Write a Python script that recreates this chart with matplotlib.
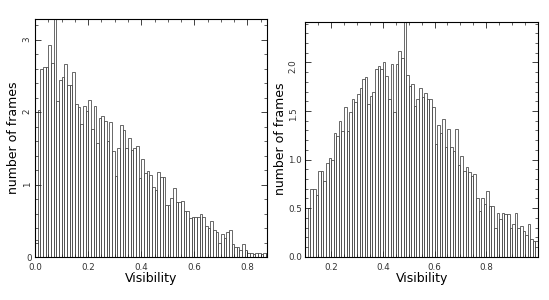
import matplotlib.pyplot as plt
from matplotlib.ticker import MultipleLocator, FixedLocator
from matplotlib.transforms import ScaledTranslation
import numpy as np

plt.rcParams.update({
    "font.family": "DejaVu Sans",
    "font.size": 6.3,
    "axes.linewidth": 0.8,
})

# histogram values (number of frames per 0.01 visibility bin)
left_start = 0.0
left_counts = [
    0.23, 2.03, 2.60, 2.62, 2.62, 2.93, 2.68, 3.60, 2.15, 2.44,
    2.49, 2.67, 2.38, 2.38, 2.55, 2.11, 2.07, 1.84, 2.09, 2.02,
    2.17, 1.77, 2.09, 1.57, 1.92, 1.95, 1.88, 1.60, 1.86, 1.47,
    1.12, 1.50, 1.82, 1.76, 1.50, 1.64, 1.48, 1.50, 1.53, 1.09,
    1.36, 1.16, 1.19, 1.13, 0.97, 0.92, 1.17, 1.10, 1.11, 0.72,
    0.72, 0.81, 0.96, 0.76, 0.76, 0.78, 0.63, 0.63, 0.54, 0.56,
    0.56, 0.56, 0.60, 0.56, 0.43, 0.40, 0.50, 0.37, 0.34, 0.20,
    0.32, 0.26, 0.34, 0.37, 0.18, 0.14, 0.14, 0.10, 0.18, 0.10,
    0.05, 0.05, 0.04, 0.06, 0.05, 0.04, 0.06, 0.06,
]
left_xticks = [0.0, 0.2, 0.4, 0.6, 0.8]
left_yticks = [0, 1, 2, 3]
left_ylabels = ["0", "1", "2", "3"]
left_rotated = ["1", "2", "3"]

right_start = 0.1
right_counts = [
    0.00, 0.50, 0.70, 0.70, 0.64, 0.88, 0.88, 0.78, 0.97, 1.02,
    1.00, 1.27, 1.24, 1.40, 1.29, 1.54, 1.29, 1.49, 1.62, 1.59,
    1.67, 1.74, 1.83, 1.85, 1.57, 1.65, 1.70, 1.93, 1.96, 1.93,
    2.00, 1.86, 1.62, 1.98, 1.49, 1.98, 2.12, 2.05, 2.60, 1.87,
    1.76, 1.78, 1.55, 1.62, 1.74, 1.64, 1.69, 1.62, 1.62, 1.54,
    1.16, 1.36, 1.27, 1.42, 1.13, 1.31, 1.13, 1.09, 1.31, 0.94,
    1.04, 0.88, 0.92, 0.87, 0.83, 0.85, 0.61, 0.47, 0.61, 0.54,
    0.68, 0.52, 0.52, 0.30, 0.45, 0.39, 0.45, 0.44, 0.44, 0.30,
    0.34, 0.45, 0.30, 0.32, 0.27, 0.22, 0.34, 0.18, 0.16, 0.16,
]
right_xticks = [0.2, 0.4, 0.6, 0.8]
right_yticks = [0.0, 0.5, 1.0, 1.5, 2.0]
right_ylabels = ["0.0", "0.5", "1.0", "1.5", "2.0"]
right_rotated = ["1.5", "2.0"]
bin_width = 0.01

fig = plt.figure(figsize=(5.49, 3.0), dpi=100)
ax1 = fig.add_axes([0.064, 0.143, 0.423, 0.794])
ax2 = fig.add_axes([0.556, 0.144, 0.424, 0.784])


def draw_hist(ax, start, counts, xlim, xticks, ylim, yticks, ylabels, yminor,
              rotated, rot_shift):
    edges = start + bin_width * np.arange(len(counts))
    ax.bar(edges, counts, width=bin_width, align='edge', fill=False,
           edgecolor='#505050', linewidth=0.6)
    ax.set_xlim(*xlim)
    ax.set_ylim(*ylim)
    ax.xaxis.set_major_locator(FixedLocator(xticks))
    ax.xaxis.set_minor_locator(MultipleLocator(0.05))
    ax.xaxis.set_major_formatter(lambda v, p: f"{v:.1f}")
    ax.yaxis.set_minor_locator(MultipleLocator(yminor))
    ax.tick_params(which='both', direction='in', top=True, right=True,
                   colors='#222222', labelcolor='#333333')
    ax.tick_params(which='major', length=4, width=0.6)
    ax.tick_params(axis='x', which='major', pad=4.5)
    ax.tick_params(axis='y', which='major', pad=2.5)
    ax.tick_params(which='minor', length=2, width=0.5)
    ax.set_yticks(yticks, ylabels)
    ax.set_xlabel("Visibility", fontsize=9, labelpad=0)
    ax.set_ylabel("number of frames", fontsize=9)
    # some y tick labels are drawn turned on their side
    shift = ScaledTranslation(-rot_shift / 100, 0, fig.dpi_scale_trans)
    for lab in ax.get_yticklabels():
        if lab.get_text() in rotated:
            lab.set_rotation(90)
            lab.set_transform(lab.get_transform() + shift)


draw_hist(ax1, left_start, left_counts, (0.0, 0.875), left_xticks,
          (0, 3.29), left_yticks, left_ylabels, 0.2, left_rotated, 0)
ax1.yaxis.set_label_coords(-0.065, 0.5)

draw_hist(ax2, right_start, right_counts, (0.1, 1.0), right_xticks,
          (0, 2.42), right_yticks, right_ylabels, 0.1, right_rotated, 4)
ax2.yaxis.set_label_coords(-0.077, 0.5)

plt.savefig("out.png", dpi=100)
